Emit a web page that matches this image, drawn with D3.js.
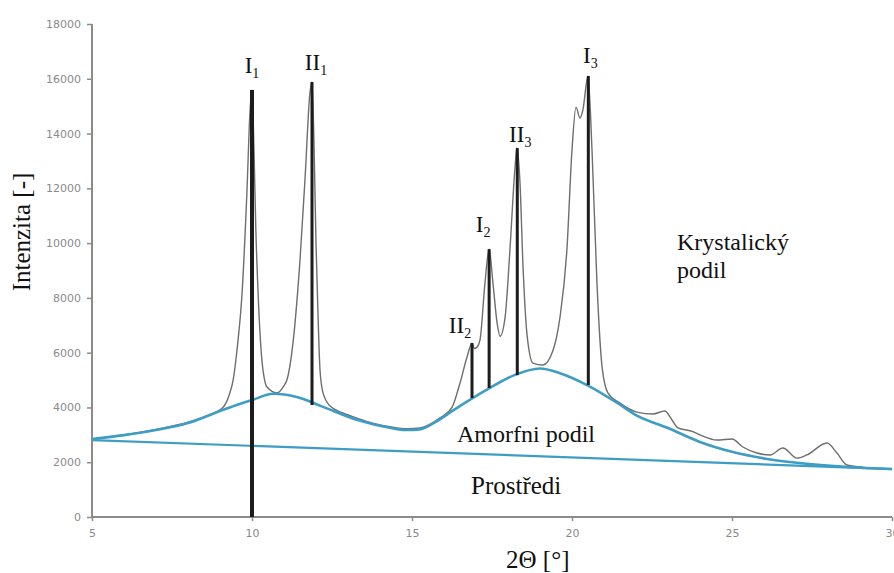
<!DOCTYPE html>
<html>
<head>
<meta charset="utf-8">
<script src="https://cdn.jsdelivr.net/npm/d3@7"></script>
<style>
  body { margin: 0; background: #fff; }
  svg { display: block; }
  .tick text { font-family: "DejaVu Sans", sans-serif; font-size: 11px; fill: #8a8a8a; }
  .lbl { font-family: "Liberation Serif", "Times New Roman", serif; fill: #111; }
</style>
</head>
<body>
<div id="chart"></div>
<script>
// measured XRD pattern (2theta, intensity)
var scanAngle = [5.0, 6.0, 7.0, 8.0, 8.6, 9.09, 9.3, 9.41, 9.55, 9.69, 9.84, 9.94, 10.0, 10.06, 10.12, 10.19, 10.31, 10.47, 10.78, 11.0, 11.09, 11.28, 11.5, 11.66, 11.81, 11.875, 11.94, 12.0, 12.06, 12.125, 12.22, 12.44, 12.84, 13.3, 13.8, 14.3, 14.84, 15.25, 15.875, 16.25, 16.5, 16.72, 16.875, 16.95, 17.03, 17.125, 17.28, 17.41, 17.53, 17.66, 17.75, 17.91, 18.06, 18.22, 18.28, 18.375, 18.47, 18.59, 18.78, 19.09, 19.41, 19.625, 19.84, 20.0, 20.125, 20.25, 20.34, 20.5, 20.625, 20.78, 20.94, 21.125, 21.5, 22.03, 22.53, 22.9, 23.125, 23.31, 23.78, 24.0, 24.53, 25.0, 25.34, 25.78, 26.19, 26.59, 27.03, 27.34, 27.97, 28.28, 28.59, 29.0, 29.2];
var scanInt = [2850, 3000, 3200, 3460, 3700, 4000, 4500, 5000, 6300, 8180, 11830, 14860, 15590, 13500, 10500, 8180, 5730, 4745, 4530, 4800, 5000, 6350, 9380, 12410, 15480, 15880, 13500, 10000, 7500, 5370, 4530, 4050, 3800, 3600, 3420, 3300, 3220, 3250, 3620, 4000, 4890, 5840, 6350, 6150, 6200, 6460, 8540, 9780, 8540, 7080, 6600, 7300, 9745, 12775, 13470, 12190, 9125, 6715, 5620, 5550, 6100, 7300, 9745, 13400, 14965, 14560, 14860, 16100, 13400, 8540, 5475, 4525, 4160, 3830, 3760, 3870, 3540, 3250, 3120, 3000, 2810, 2850, 2555, 2335, 2265, 2520, 2150, 2265, 2700, 2335, 1900, 1825, 1790];

// amorphous hump
var amorphAngle = [5.0, 6.0, 7.0, 8.0, 9.0, 9.5, 10.0, 10.66, 11.4, 12.2, 13.3, 14.3, 14.8, 15.25, 15.75, 16.3, 17.3, 18.2, 19.0, 19.6, 20.5, 21.5, 22.0, 23.0, 24.0, 25.0, 26.1, 27.1, 28.2, 29.2, 30.0];
var amorphInt = [2850, 2990, 3175, 3430, 3870, 4080, 4270, 4500, 4380, 4030, 3540, 3260, 3175, 3200, 3480, 3900, 4620, 5180, 5420, 5260, 4800, 4100, 3720, 3250, 2740, 2380, 2120, 1970, 1860, 1790, 1750];

// background line
var bgAngle = [5, 30];
var bgInt = [2810, 1750];

// crystalline peaks
var peakNames = ["I", "II", "II", "I", "II", "I"];
var peakSubs = ["1", "1", "2", "2", "3", "3"];
var peakAngle = [10.0, 11.875, 16.875, 17.41, 18.29, 20.51];
var peakTop = [15590, 15880, 6350, 9780, 13470, 16100];
var peakBase = [0, 4090, 4345, 4710, 5180, 4820];

var yTicks = [0, 2000, 4000, 6000, 8000, 10000, 12000, 14000, 16000, 18000];
var xTicks = [5, 10, 15, 20, 25, 30];

var W = 894, H = 573;
var svg = d3.select("#chart").append("svg").attr("width", W).attr("height", H);

var x = d3.scaleLinear().domain([5, 30]).range([92, 892]);
var y = d3.scaleLinear().domain([0, 18000]).range([517, 24]);

// axes
var yAxis = svg.append("g").attr("transform", "translate(92,0)")
  .call(d3.axisLeft(y).tickValues(yTicks).tickSize(5).tickPadding(6).tickFormat(d3.format("d")));
var xAxis = svg.append("g").attr("transform", "translate(0,517)")
  .call(d3.axisBottom(x).tickValues(xTicks).tickSize(4).tickPadding(8).tickFormat(d3.format("d")));
[xAxis, yAxis].forEach(function(a){
  a.select(".domain").attr("stroke", "#8c8c8c").attr("stroke-width", 2);
  a.selectAll(".tick line").attr("stroke", "#8c8c8c").attr("stroke-width", 1.5);
});
yAxis.select(".domain").attr("d", "M0," + y(18000) + "V" + y(0));
xAxis.select(".domain").attr("d", "M" + x(5) + ",0H" + x(30));

var blue = "#3d9dc4";

// background
svg.append("path")
  .attr("d", d3.line().x(function(d, i){ return x(bgAngle[i]); }).y(function(d){ return y(d); })(bgInt))
  .attr("fill", "none").attr("stroke", blue).attr("stroke-width", 2.2);

// measured pattern
svg.append("path")
  .attr("d", d3.line().curve(d3.curveMonotoneX)
    .x(function(d, i){ return x(scanAngle[i]); }).y(function(d){ return y(d); })(scanInt))
  .attr("fill", "none").attr("stroke", "#6e6e6e").attr("stroke-width", 1.4);

// amorphous
svg.append("path")
  .attr("d", d3.line().curve(d3.curveMonotoneX)
    .x(function(d, i){ return x(amorphAngle[i]); }).y(function(d){ return y(d); })(amorphInt))
  .attr("fill", "none").attr("stroke", blue).attr("stroke-width", 2.6);

// peak bars
svg.selectAll(".bar").data(peakTop).enter().append("line")
  .attr("x1", function(d, i){ return x(peakAngle[i]); })
  .attr("x2", function(d, i){ return x(peakAngle[i]); })
  .attr("y1", function(d){ return y(d); })
  .attr("y2", function(d, i){ return y(peakBase[i]); })
  .attr("stroke", "#1c1c1c")
  .attr("stroke-width", function(d, i){ return i === 0 ? 4 : 3; });

// peak labels
var nudge = [[0, -17], [4, -12], [-12, -10], [-6, -17], [3, -6], [2, -13]];
var labels = svg.selectAll(".plabel").data(peakNames).enter().append("text")
  .attr("class", "lbl")
  .attr("text-anchor", "middle")
  .attr("font-size", 23)
  .attr("x", function(d, i){ return x(peakAngle[i]) + nudge[i][0]; })
  .attr("y", function(d, i){ return y(peakTop[i]) + nudge[i][1]; });
labels.append("tspan").text(function(d){ return d; });
labels.append("tspan").attr("font-size", 14).attr("dy", 5).text(function(d, i){ return peakSubs[i]; });

// region labels
svg.append("text").attr("class", "lbl").attr("font-size", 24).attr("x", 677).attr("y", 250).text("Krystalický");
svg.append("text").attr("class", "lbl").attr("font-size", 24).attr("x", 677).attr("y", 278).text("podil");
svg.append("text").attr("class", "lbl").attr("font-size", 24).attr("x", 457).attr("y", 442).text("Amorfni podil");
svg.append("text").attr("class", "lbl").attr("font-size", 25).attr("x", 471).attr("y", 494).text("Prostředi");

// axis titles
svg.append("text").attr("class", "lbl").attr("font-size", 25)
  .attr("text-anchor", "middle")
  .attr("transform", "translate(30,232) rotate(-90)")
  .text("Intenzita [-]");
svg.append("text").attr("class", "lbl").attr("font-size", 25)
  .attr("x", 506).attr("y", 568).text("2Θ [°]");
</script>
</body>
</html>
